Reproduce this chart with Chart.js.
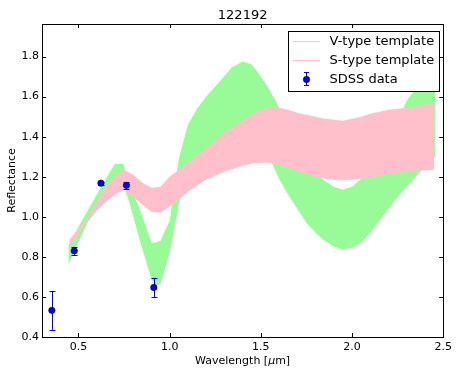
<!DOCTYPE html>
<html>
<head>
<meta charset="utf-8">
<script src="https://cdn.jsdelivr.net/npm/chart.js@4.4.0/dist/chart.umd.min.js"></script>
<style>
    body { margin: 0; background: #fff; }
    canvas { display: block; }
</style>
</head>
<body>
<canvas id="specChart" width="456" height="373"></canvas>
<script>
const chartTitle = "122192"
const xTicks = [0.5, 1.0, 1.5, 2.0, 2.5]
const yTicks = [0.4, 0.6, 0.8, 1.0, 1.2, 1.4, 1.6, 1.8]

// SDSS photometry (u g r i z)
const sdssWave = [0.354, 0.477, 0.623, 0.763, 0.913]
const sdssRefl = [0.533, 0.830, 1.168, 1.157, 0.647]
const sdssErr = [0.097, 0.020, 0.007, 0.017, 0.048]

// V-type template envelope
const vWave = [0.445, 0.5, 0.55, 0.6, 0.65, 0.7, 0.745, 0.78, 0.84, 0.9, 0.92, 0.95, 1.0, 1.05, 1.1, 1.15, 1.2, 1.27, 1.34, 1.4,
    1.45, 1.5, 1.55, 1.6, 1.65, 1.7, 1.75, 1.8, 1.85, 1.9, 1.95, 2.0, 2.05, 2.1, 2.15, 2.2, 2.25, 2.3, 2.35, 2.4, 2.455]
const vUpper = [0.86, 0.95, 1.03, 1.11, 1.19, 1.265, 1.265, 1.16, 1.03, 0.87, 0.87, 0.88, 0.98, 1.29, 1.46, 1.54, 1.6, 1.67, 1.745, 1.775,
    1.76, 1.70, 1.63, 1.545, 1.45, 1.36, 1.28, 1.22, 1.18, 1.15, 1.135, 1.15, 1.19, 1.25, 1.31, 1.38, 1.48, 1.58, 1.64, 1.70, 1.75]
const vLower = [0.76, 0.875, 0.97, 1.05, 1.11, 1.15, 1.16, 1.07, 0.87, 0.69, 0.655, 0.665, 0.82, 1.06, 1.22, 1.28, 1.31, 1.34, 1.36, 1.37,
    1.36, 1.34, 1.29, 1.19, 1.11, 1.04, 0.97, 0.92, 0.88, 0.85, 0.837, 0.845, 0.87, 0.92, 0.98, 1.04, 1.1, 1.15, 1.2, 1.25, 1.3]

// S-type template envelope
const sWave = [0.45, 0.5, 0.55, 0.6, 0.65, 0.7, 0.75, 0.8, 0.85, 0.9, 0.95, 1.0, 1.05, 1.1, 1.15, 1.2, 1.25, 1.3, 1.35, 1.4,
    1.45, 1.5, 1.55, 1.6, 1.65, 1.7, 1.75, 1.8, 1.85, 1.9, 1.95, 2.0, 2.05, 2.1, 2.15, 2.2, 2.25, 2.3, 2.35, 2.4, 2.45]
const sUpper = [0.885, 0.94, 0.99, 1.07, 1.15, 1.2, 1.235, 1.21, 1.17, 1.145, 1.15, 1.2, 1.235, 1.27, 1.305, 1.34, 1.38, 1.42, 1.45, 1.48,
    1.51, 1.535, 1.545, 1.545, 1.535, 1.52, 1.51, 1.5, 1.49, 1.485, 1.48, 1.49, 1.5, 1.515, 1.525, 1.535, 1.54, 1.545, 1.55, 1.56, 1.565]
const sLower = [0.845, 0.915, 0.975, 1.03, 1.075, 1.11, 1.135, 1.1, 1.06, 1.025, 1.02, 1.05, 1.085, 1.125, 1.155, 1.185, 1.205, 1.225, 1.24, 1.255,
    1.265, 1.27, 1.27, 1.26, 1.245, 1.23, 1.215, 1.2, 1.19, 1.185, 1.183, 1.185, 1.19, 1.195, 1.205, 1.215, 1.22, 1.225, 1.23, 1.232, 1.235]

const green = "#98fb98"
const pink = "#ffc0cb"
const font = "DejaVu Sans"

const pts = (xs, ys) => xs.map((x, i) => ({ x: x, y: ys[i] }))

const band = (label, xs, ys, color, fill, order) => ({
    label: label,
    data: pts(xs, ys),
    showLine: true,
    borderWidth: 0,
    borderColor: color,
    backgroundColor: color,
    pointRadius: 0,
    fill: fill,
    order: order,
})

const extras = {
    id: "extras",
    beforeDatasetDraw(chart, args) {
        if (args.index !== 4) return
        const { ctx, scales: { x, y } } = chart
        ctx.save()
        ctx.strokeStyle = "#0000ff"
        ctx.lineWidth = 1
        sdssWave.forEach((w, i) => {
            const px = Math.round(x.getPixelForValue(w)) + 0.5
            const top = y.getPixelForValue(sdssRefl[i] + sdssErr[i])
            const bot = y.getPixelForValue(sdssRefl[i] - sdssErr[i])
            ctx.beginPath()
            ctx.moveTo(px, top)
            ctx.lineTo(px, bot)
            ctx.moveTo(px - 3, Math.round(top) + 0.5)
            ctx.lineTo(px + 3, Math.round(top) + 0.5)
            ctx.moveTo(px - 3, Math.round(bot) + 0.5)
            ctx.lineTo(px + 3, Math.round(bot) + 0.5)
            ctx.stroke()
        })
        ctx.restore()
    },
    afterDraw(chart) {
        const { ctx, chartArea: a, scales: { x, y } } = chart
        ctx.save()
        // frame
        ctx.strokeStyle = "#000"
        ctx.lineWidth = 1
        ctx.strokeRect(Math.round(a.left) + 0.5, Math.round(a.top) + 0.5,
            Math.round(a.right - a.left), Math.round(a.bottom - a.top))
        // inward ticks on all four sides
        ctx.beginPath()
        xTicks.forEach((v) => {
            const px = Math.round(x.getPixelForValue(v)) + 0.5
            ctx.moveTo(px, a.bottom); ctx.lineTo(px, a.bottom - 4)
            ctx.moveTo(px, a.top); ctx.lineTo(px, a.top + 4)
        })
        yTicks.forEach((v) => {
            const py = Math.round(y.getPixelForValue(v)) + 0.5
            ctx.moveTo(a.left, py); ctx.lineTo(a.left + 4, py)
            ctx.moveTo(a.right, py); ctx.lineTo(a.right - 4, py)
        })
        ctx.stroke()

        // title
        ctx.fillStyle = "#000"
        ctx.textAlign = "center"
        ctx.textBaseline = "alphabetic"
        ctx.font = "13px '" + font + "'"
        const cx = (a.left + a.right) / 2
        ctx.fillText(chartTitle, cx, 19)

        // x axis label with italic mu
        ctx.font = "11px '" + font + "'"
        const p1 = "Wavelength [", p3 = "m]"
        const w1 = ctx.measureText(p1).width, w3 = ctx.measureText(p3).width
        ctx.font = "italic 11px '" + font + "'"
        const w2 = ctx.measureText("\u03bc").width
        let sx = cx - (w1 + w2 + w3) / 2
        ctx.textAlign = "left"
        ctx.font = "11px '" + font + "'"
        ctx.fillText(p1, sx, 364)
        ctx.font = "italic 11px '" + font + "'"
        ctx.fillText("\u03bc", sx + w1, 364)
        ctx.font = "11px '" + font + "'"
        ctx.fillText(p3, sx + w1 + w2, 364)

        // y axis label
        ctx.save()
        ctx.translate(15, (a.top + a.bottom) / 2)
        ctx.rotate(-Math.PI / 2)
        ctx.textAlign = "center"
        ctx.fillText("Reflectance", 0, 0)
        ctx.restore()

        // legend
        const lx = 288.5, ly = 31.5, lw = 151, lh = 60
        ctx.fillStyle = "#fff"
        ctx.fillRect(lx, ly, lw, lh)
        ctx.strokeStyle = "#000"
        ctx.strokeRect(lx, ly, lw, lh)
        const rows = [41.5, 60.5, 79.5]
        ctx.lineWidth = 1
        ctx.strokeStyle = green
        ctx.beginPath(); ctx.moveTo(293, rows[0]); ctx.lineTo(320, rows[0]); ctx.stroke()
        ctx.strokeStyle = pink
        ctx.beginPath(); ctx.moveTo(293, rows[1]); ctx.lineTo(320, rows[1]); ctx.stroke()
        ctx.strokeStyle = "#0000ff"
        ctx.beginPath()
        ctx.moveTo(306.5, rows[2] - 7); ctx.lineTo(306.5, rows[2] + 6)
        ctx.moveTo(304, rows[2] - 7); ctx.lineTo(309, rows[2] - 7)
        ctx.moveTo(304, rows[2] + 6); ctx.lineTo(309, rows[2] + 6)
        ctx.stroke()
        ctx.fillStyle = "#0000ff"
        ctx.strokeStyle = "#000"
        ctx.lineWidth = 0.6
        ctx.beginPath(); ctx.arc(306.5, rows[2], 3.2, 0, Math.PI * 2); ctx.fill(); ctx.stroke()
        ctx.fillStyle = "#000"
        ctx.font = "13px '" + font + "'"
        ctx.textAlign = "left"
        ctx.textBaseline = "middle"
        ctx.fillText("V-type template", 329.5, rows[0])
        ctx.fillText("S-type template", 329.5, rows[1])
        ctx.fillText("SDSS data", 329.5, rows[2])
        ctx.restore()
    },
}

const ctx = document.getElementById("specChart").getContext("2d")
const specChart = new Chart(ctx, {
    type: "scatter",
    data: {
        datasets: [
            band("V-type template", vWave, vUpper, green, "+1", 3),
            band("V-type lower", vWave, vLower, green, false, 3),
            band("S-type template", sWave, sUpper, pink, "+1", 2),
            band("S-type lower", sWave, sLower, pink, false, 2),
            {
                label: "SDSS data",
                data: pts(sdssWave, sdssRefl),
                pointRadius: 3.2,
                pointBackgroundColor: "#0000ff",
                pointBorderColor: "#000",
                pointBorderWidth: 0.6,
                order: 1,
            },
        ],
    },
    options: {
        responsive: false,
        animation: false,
        layout: { padding: { top: 24, right: 11, left: 0, bottom: 0 } },
        plugins: {
            legend: { display: false },
            tooltip: { enabled: false },
            title: { display: false },
        },
        scales: {
            x: {
                type: "linear",
                min: 0.3,
                max: 2.5,
                afterFit: (s) => { s.height = 36 },
                afterBuildTicks: (s) => { s.ticks = xTicks.map((v) => ({ value: v })) },
                grid: { display: false, drawTicks: false },
                border: { display: false },
                ticks: {
                    padding: 4,
                    maxRotation: 0,
                    autoSkip: false,
                    color: "#000",
                    font: { family: font, size: 11 },
                    callback: (v) => v.toFixed(1),
                },
            },
            y: {
                type: "linear",
                min: 0.4,
                max: 1.9625,
                afterFit: (s) => { s.width = 42 },
                afterBuildTicks: (s) => { s.ticks = yTicks.map((v) => ({ value: v })) },
                grid: { display: false, drawTicks: false },
                border: { display: false },
                ticks: {
                    padding: 3,
                    autoSkip: false,
                    color: "#000",
                    font: { family: font, size: 11 },
                    callback: (v) => v.toFixed(1),
                },
            },
        },
    },
    plugins: [extras],
})
</script>
</body>
</html>
